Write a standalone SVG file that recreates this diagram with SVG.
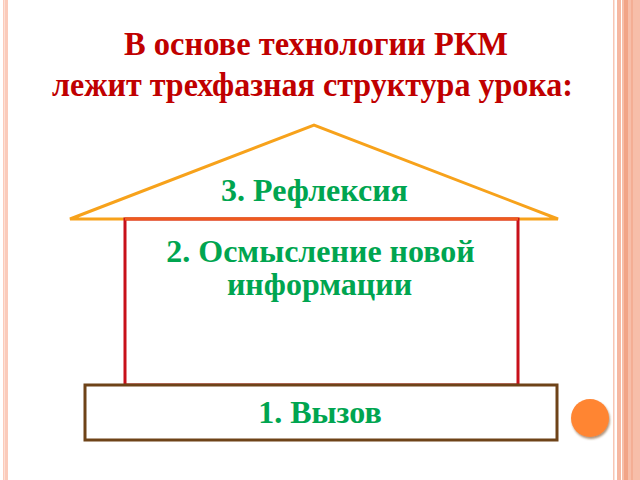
<svg xmlns="http://www.w3.org/2000/svg" width="640" height="480" viewBox="0 0 640 480">
<style>
.t{font-family:"Liberation Serif","Times New Roman",serif;font-weight:bold;text-anchor:middle}
.title{fill:#C00000;font-size:33px}
.g{fill:#00A550;font-size:32px}
</style>
<defs>
<filter id="sh" x="-30%" y="-30%" width="160%" height="160%">
<feDropShadow dx="1" dy="2" stdDeviation="1.2" flood-color="#7a4a20" flood-opacity="0.6"/>
</filter>
</defs>
<rect width="640" height="480" fill="#fff"/>
<g id="border-left">
<rect x="3" y="0" width="5" height="480" fill="#FBCBBB"/>
<rect x="4" y="0" width="1" height="480" fill="#FDE0D6"/>
</g>
<g id="border-right">
<rect x="613" y="0" width="1.5" height="480" fill="#F8C6B4"/>
<rect x="617" y="0" width="4" height="480" fill="#F6B8A2"/>
<rect x="622" y="0" width="18" height="480" fill="#F7BEA9"/>
<rect x="624" y="0" width="4" height="480" fill="#F2A487"/>
<rect x="631" y="0" width="2" height="480" fill="#F4AE94"/>
</g>
<text class="t title" x="316" y="55" textLength="384" lengthAdjust="spacingAndGlyphs">В основе технологии РКМ</text>
<text class="t title" x="312.5" y="96" textLength="521" lengthAdjust="spacingAndGlyphs">лежит трехфазная структура урока:</text>
<g id="node-reflexia">
<polygon points="70,219 314,125 558,219" fill="#fff" stroke="#F7A21B" stroke-width="3" stroke-linejoin="miter"/>
<text class="t g" x="314.5" y="201">3. Рефлексия</text>
</g>
<g id="node-osmyslenie">
<rect x="125" y="219" width="393" height="166" fill="#fff" stroke="#C8101A" stroke-width="3"/>
<line x1="125" y1="219" x2="518" y2="219" stroke="#EE5A1E" stroke-width="3"/>
<text class="t g" x="320.5" y="262">2. Осмысление новой</text>
<text class="t g" x="319.5" y="295">информации</text>
</g>
<g id="node-vyzov">
<rect x="85" y="385" width="472" height="55" fill="#fff" stroke="#6E4318" stroke-width="3"/>
<text class="t g" x="320" y="423">1. Вызов</text>
</g>
<g id="connectors"></g>
<circle cx="590" cy="418" r="19" fill="#FF8533" filter="url(#sh)"/>
</svg>
